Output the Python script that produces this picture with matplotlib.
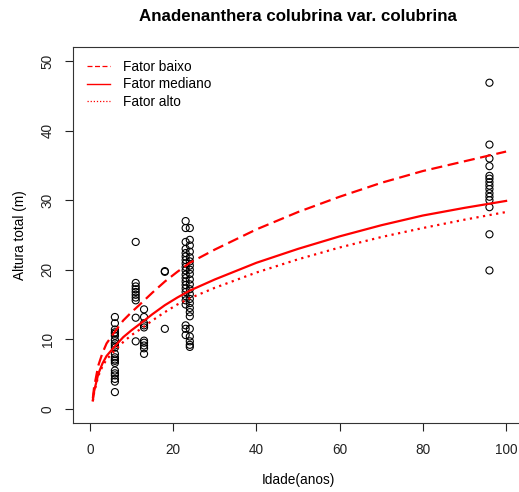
import matplotlib.pyplot as plt
from matplotlib.lines import Line2D

plt.rcParams['font.family'] = ['Liberation Sans', 'DejaVu Sans']

# observed heights (m) per age (years)
idade_6 = [13.2, 12.3, 11.4, 11.0, 10.8, 10.5, 9.9, 9.4, 9.1, 8.8, 7.9, 7.4,
           7.1, 6.9, 6.6, 5.5, 5.1, 4.8, 4.3, 3.9, 2.4]
idade_11 = [24.0, 18.1, 17.6, 17.2, 16.8, 16.4, 16.0, 15.6, 13.1, 9.7]
idade_13 = [14.3, 13.2, 12.3, 12.0, 11.7, 9.8, 9.5, 9.1, 8.7, 7.9]
idade_18 = [19.8, 19.7, 11.5]
idade_23 = [27.0, 26.0, 24.0, 23.0, 22.4, 21.9, 21.4, 20.9, 20.4, 19.9, 19.3,
            18.8, 18.3, 17.8, 17.3, 16.8, 16.2, 15.6, 15.0, 12.0, 11.5, 10.6]
idade_24 = [26.0, 24.3, 23.5, 22.6, 21.8, 21.2, 20.6, 20.0, 19.4, 18.6, 17.9,
            17.2, 16.5, 15.8, 15.2, 14.5, 13.9, 13.3, 11.5, 10.4, 9.7, 9.2, 8.9]
idade_96 = [46.9, 38.0, 36.0, 34.9, 33.5, 33.1, 32.6, 32.1, 31.6, 31.0, 30.5,
            30.0, 29.0, 25.1, 19.9]

grupos = {6: idade_6, 11: idade_11, 13: idade_13, 18: idade_18,
          23: idade_23, 24: idade_24, 96: idade_96}

# fitted curves
idades_curva = [0.7, 1, 2, 3, 4, 6, 8, 10, 12, 15, 18, 21, 24, 30, 40, 50,
                60, 70, 80, 90, 100]
fator_baixo = [1.5, 3.1, 6.2, 8.0, 9.4, 11.1, 12.7, 13.9, 15.0, 16.7, 18.3,
               19.7, 21.0, 22.9, 25.8, 28.3, 30.5, 32.5, 34.2, 35.6, 37.0]
fator_mediano = [1.2, 2.5, 5.0, 6.5, 7.6, 9.0, 10.3, 11.3, 12.2, 13.6, 14.9,
                 16.0, 17.0, 18.6, 21.0, 23.0, 24.8, 26.4, 27.8, 28.9, 29.9]
fator_alto = [1.1, 2.3, 4.7, 6.1, 7.1, 8.4, 9.6, 10.6, 11.4, 12.7, 13.9,
              15.0, 15.9, 17.4, 19.6, 21.5, 23.2, 24.7, 26.0, 27.2, 28.3]

fig = plt.figure(figsize=(5.19, 4.92), dpi=100)
ax = fig.add_axes([0.1412, 0.1409, 0.866, 0.763])

xs, ys = [], []
for idade, alturas in grupos.items():
    xs += [idade] * len(alturas)
    ys += alturas
ax.scatter(xs, ys, s=26, facecolors='none', edgecolors='black', linewidths=0.8,
           zorder=2)

ax.plot(idades_curva, fator_baixo, color='red', lw=1.6, linestyle=(0, (5, 2.5)),
        zorder=3)
ax.plot(idades_curva, fator_mediano, color='red', lw=1.6, linestyle='-', zorder=3)
ax.plot(idades_curva, fator_alto, color='red', lw=1.6, linestyle=(0, (1, 2)),
        zorder=3)

ax.set_xlim(-4, 104)
ax.set_ylim(-2, 52)
ax.set_xticks([0, 20, 40, 60, 80, 100])
ax.set_yticks([0, 10, 20, 30, 40, 50])
ax.tick_params(direction='out', length=5.5, width=0.8, labelsize=9.8,
               colors='#222222')
ax.tick_params(axis='x', pad=9)
ax.tick_params(axis='y', pad=8)
for lab in ax.get_yticklabels():
    lab.set_rotation(90)
    lab.set_va('center')
for sp in ax.spines.values():
    sp.set_linewidth(0.8)
    sp.set_color('#333333')

ax.set_xlabel('Idade(anos)', fontsize=9.8, labelpad=12)
ax.set_ylabel('Altura total (m)', fontsize=9.8, labelpad=10)
fig.text(0.574, 0.967, 'Anadenanthera colubrina var. colubrina',
         fontsize=12.2, fontweight='bold', ha='center', va='center')

handles = [Line2D([], [], color='red', lw=0.9, linestyle=(0, (4, 2))),
           Line2D([], [], color='red', lw=1.0, linestyle='-'),
           Line2D([], [], color='red', lw=0.9, linestyle=(0, (1, 1.5)))]
ax.legend(handles, ['Fator baixo', 'Fator mediano', 'Fator alto'],
          loc='upper left', bbox_to_anchor=(0.167, 0.878),
          bbox_transform=fig.transFigure, frameon=False, fontsize=9.8,
          handlelength=1.71, handletextpad=0.98, labelspacing=0.24,
          borderpad=0, borderaxespad=0)

fig.savefig('out.png', dpi=100)
